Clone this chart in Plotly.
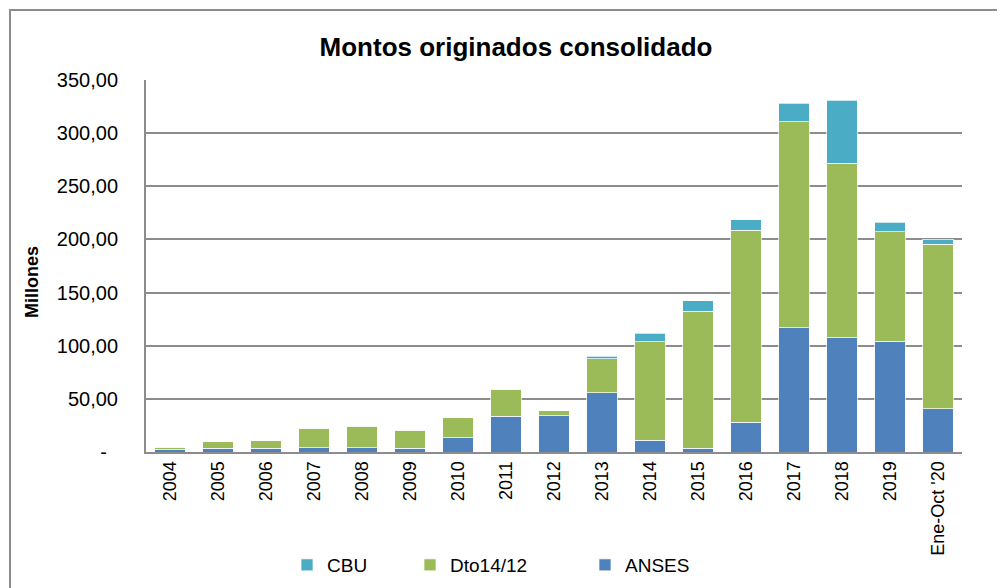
import plotly.graph_objects as go

years = ["2004", "2005", "2006", "2007", "2008", "2009", "2010", "2011", "2012",
         "2013", "2014", "2015", "2016", "2017", "2018", "2019", "Ene-Oct '20"]
anses = [1.9, 3.5, 3.5, 4.1, 4.1, 3.5, 13.6, 33.7, 33.9, 55.9, 11.0, 3.5, 28.2, 117.1, 107.4, 104.3, 40.7]
dto = [2.8, 6.0, 7.3, 18.4, 20.3, 16.8, 18.4, 25.5, 5.0, 32.0, 92.9, 128.8, 180.4, 193.6, 164.1, 103.0, 155.0]
cbu = [0, 0, 0, 0, 0, 0, 0, 0, 0, 2.2, 7.8, 10.2, 9.7, 17.5, 59.5, 8.8, 3.8]

y_ticks = [0, 50, 100, 150, 200, 250, 300, 350]
y_ticktext = ["-\u00a0\u00a0", "50,00", "100,00", "150,00", "200,00", "250,00", "300,00", "350,00"]

FONT = "Liberation Sans"
edge = dict(color="rgba(255,255,255,0.7)", width=1)

fig = go.Figure()
fig.add_trace(go.Bar(name="ANSES", x=years, y=anses, marker=dict(color="#4F81BD", line=edge), legend="legend3"))
fig.add_trace(go.Bar(name="Dto14/12", x=years, y=dto, marker=dict(color="#9BBB59", line=edge), legend="legend2"))
fig.add_trace(go.Bar(name="CBU", x=years, y=cbu, marker=dict(color="#4BACC6", line=edge), legend="legend"))

OFF = 8  # page body margin
W, H = 1005 - OFF, 588 - OFF
L, R, T, B = 146 - OFF, 962 - OFF, 80 - OFF, 452 - OFF
pw, ph = R - L, B - T

def px(x):
    return (x - OFF - L) / pw

def py(y):
    return (B - (y - OFF)) / ph

leg_common = dict(orientation="h", yanchor="middle", xanchor="left",
                  font=dict(family=FONT, size=19, color="#000"), bgcolor="rgba(0,0,0,0)")

fig.update_layout(
    width=W, height=H,
    margin=dict(l=L, r=W - R, t=T, b=H - B, autoexpand=False),
    barmode="stack",
    bargap=0.36,
    plot_bgcolor="white",
    paper_bgcolor="white",
    font=dict(family=FONT, color="#000"),
    title=dict(text="<b>Montos originados consolidado</b>", x=(516 - OFF) / W, xanchor="center",
               y=1 - (47 - OFF) / H, yanchor="middle", font=dict(family=FONT, size=26, color="#000")),
    showlegend=True,
    legend=dict(x=px(287), y=py(565), **leg_common),
    legend2=dict(x=px(410), y=py(565), **leg_common),
    legend3=dict(x=px(585), y=py(565), **leg_common),
    xaxis=dict(
        type="category",
        tickangle=-90,
        tickfont=dict(family=FONT, size=18, color="#000"),
        showline=True, linecolor="#8c8c8c", linewidth=2,
        showgrid=False, ticks="",
    ),
    yaxis=dict(
        range=[0, 350],
        tickvals=y_ticks, ticktext=y_ticktext,
        tickfont=dict(family=FONT, size=20, color="#000"),
        showgrid=True, gridcolor="#8c8c8c", gridwidth=2,
        showline=True, linecolor="#8c8c8c", linewidth=2,
        zeroline=False, ticks="", ticklabelstandoff=22,
    ),
    shapes=[dict(type="rect", xref="paper", yref="paper",
                 x0=px(10), x1=px(1012), y0=py(600), y1=py(10),
                 line=dict(color="#8c8c8c", width=2), fillcolor="rgba(0,0,0,0)", layer="below")],
    annotations=[dict(text="<b>Millones</b>", textangle=-90, xref="paper", yref="paper",
                      x=px(32), y=py(282), xanchor="center", yanchor="middle", showarrow=False,
                      font=dict(family=FONT, size=18, color="#000"))],
)

fig.write_html("out.html")
